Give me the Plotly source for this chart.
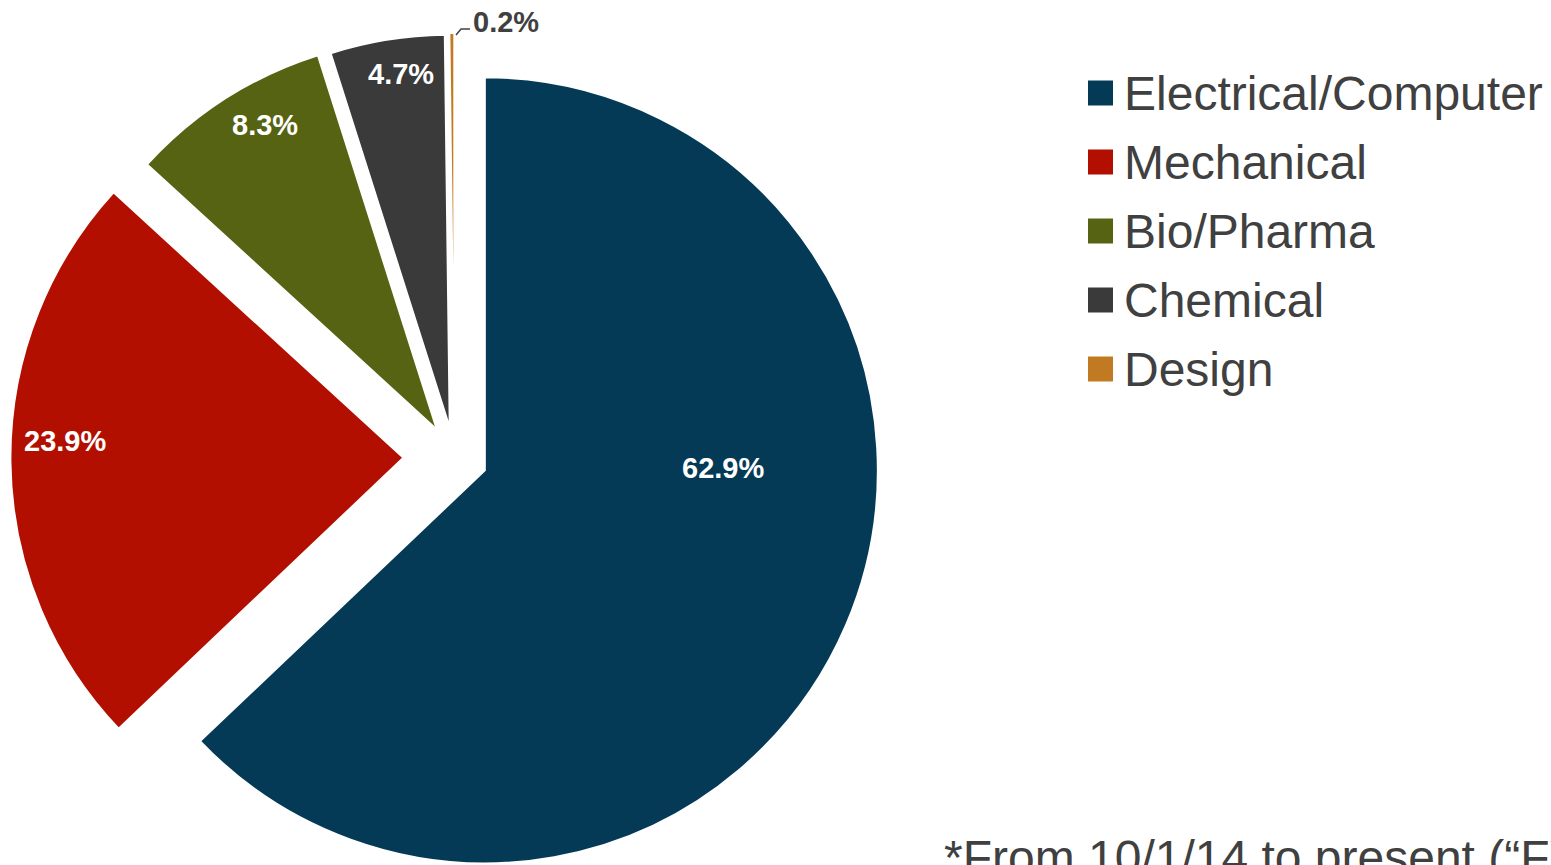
import plotly.graph_objects as go

# ---- data ----
categories = ["Electrical/Computer", "Mechanical", "Bio/Pharma", "Chemical", "Design"]
shares = [62.9, 23.9, 8.3, 4.7, 0.2]
colors = ["#053A57", "#B30F00", "#566312", "#3A3A3A", "#C27A22"]
pulls = [0.084, 0.13, 0.083, 0.076, 0.08]
footnote = "*From 10/1/14 to present (\u201cFY15\u201d)"

# ---- layout helpers (pixel positions of the data labels, legend etc.) ----
W, H = 1551, 905
FONT = "Liberation Sans, Arial"
label_xy = [(723, 468), (65, 441), (265, 125), (401, 74), (506, 22)]
label_colors = ["white", "white", "white", "white", "#404040"]


def px(x):
    return x / W


def py(y):
    return 1 - y / H


fig = go.Figure()
fig.add_trace(go.Pie(
    labels=categories,
    values=shares,
    sort=False,
    direction="clockwise",
    rotation=0,
    pull=pulls,
    marker=dict(colors=colors, line=dict(color="white", width=2)),
    textinfo="none",
    hoverinfo="label+percent",
    showlegend=False,
    domain=dict(x=[px(10.4), px(898.6)], y=[py(901.4), py(13.2)]),
))

# data labels
for v, (lx, ly), c in zip(shares, label_xy, label_colors):
    fig.add_annotation(xref="paper", yref="paper", x=px(lx), y=py(ly),
                       xanchor="center", yanchor="middle", showarrow=False,
                       text=f"{v:.1f}%",
                       font=dict(family=FONT, size=29, color=c, weight="bold"))

# leader line for the small slice label
fig.add_shape(type="path", xref="paper", yref="paper",
              path=f"M {px(456)},{py(35)} L {px(461)},{py(29)} L {px(470)},{py(29)}",
              line=dict(color="#404040", width=1.5))

# manual legend (large squares like the original)
legend_x0 = 1088
legend_y0 = 93
legend_dy = 69
sq = 25
for i, (name, col) in enumerate(zip(categories, colors)):
    yc = legend_y0 + i * legend_dy
    fig.add_shape(type="rect", xref="paper", yref="paper",
                  x0=px(legend_x0), x1=px(legend_x0 + sq),
                  y0=py(yc + sq / 2), y1=py(yc - sq / 2),
                  fillcolor=col, line=dict(width=0))
    fig.add_annotation(xref="paper", yref="paper", x=px(1122), y=py(yc),
                       xanchor="left", yanchor="middle", showarrow=False,
                       text=name, font=dict(family=FONT, size=48, color="#404040"))

fig.add_annotation(xref="paper", yref="paper", x=px(942), y=py(886),
                   xanchor="left", yanchor="bottom", showarrow=False,
                   text=footnote, font=dict(family=FONT, size=48, color="#404040"))

fig.update_layout(
    width=W, height=H,
    margin=dict(l=0, r=0, t=0, b=0, autoexpand=False),
    paper_bgcolor="white", plot_bgcolor="white",
    showlegend=False,
)

fig.write_html("out.html", post_script=(
    "document.body.style.margin='0';"
    "document.body.style.overflow='hidden';"
    "document.documentElement.style.overflow='hidden';"
))
